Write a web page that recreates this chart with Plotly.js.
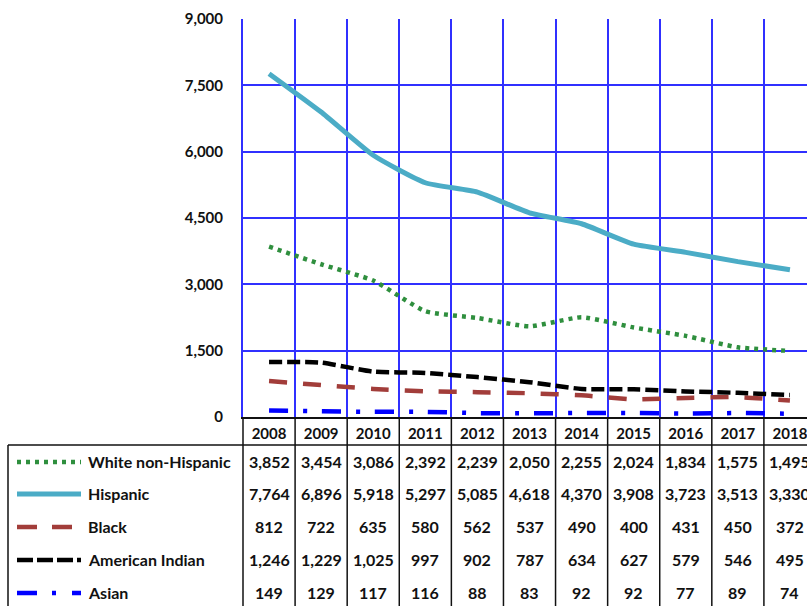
<!DOCTYPE html>
<html>
<head>
<meta charset="utf-8">
<script src="https://cdn.plot.ly/plotly-3.0.1.min.js"></script>
<style>
html,body{margin:0;padding:0;overflow:hidden;background:#fff;}
#chart{width:830px;height:606px;}
</style>
</head>
<body>
<div id="chart"></div>
<script>
// ---- data ----
const years = ["2008","2009","2010","2011","2012","2013","2014","2015","2016","2017","2018"];
const seriesNames = ["White non-Hispanic","Hispanic","Black","American Indian","Asian"];
const whiteNonHispanic = [3852,3454,3086,2392,2239,2050,2255,2024,1834,1575,1495];
const hispanic = [7764,6896,5918,5297,5085,4618,4370,3908,3723,3513,3330];
const black = [812,722,635,580,562,537,490,400,431,450,372];
const americanIndian = [1246,1229,1025,997,902,787,634,627,579,546,495];
const asian = [149,129,117,116,88,83,92,92,77,89,74];
const yTicks = [0,1500,3000,4500,6000,7500,9000];

// ---- styles ----
const seriesData = [whiteNonHispanic, hispanic, black, americanIndian, asian];
const styles = [
  {color:"#2f8f3e", width:4.5, dash:"4px,5px"},
  {color:"#4bacc6", width:5, dash:"solid"},
  {color:"#a23d3a", width:4.5, dash:"18px,16px"},
  {color:"#000000", width:4.5, dash:"13px,5px"},
  {color:"#0000ff", width:4.5, dash:"19px,15px,4px,15px"}
];
const legendDash = ["4px,5px","solid","20px,15px","16px,4px","20px,15px,4px,16px"];
const FONT = "Lato, 'Liberation Sans', sans-serif";
const TXT = "#111";
const GRID = "#3030ff";

const W = 830, H = 606, L = 243, R = 14, T = 19, B = 189;
const PW = W - L - R, PH = H - T - B;
const px = x => (x - L) / PW;
const py = y => (H - B - y) / PH;

const traces = seriesData.map((d, i) => ({
  type: "scatter", mode: "lines", x: years, y: d, name: seriesNames[i],
  line: {color: styles[i].color, width: styles[i].width, dash: styles[i].dash, shape: "spline", smoothing: 0.5},
  showlegend: false, hoverinfo: "skip"
}));

const fmt = new Intl.NumberFormat("en-US");
const rowY = [461, 493, 526, 559, 592];
const annotations = [];
const shapes = [];

seriesData.forEach((d, i) => {
  annotations.push({xref:"paper", yref:"paper", x: px(86), y: py(rowY[i]), xanchor:"left", yanchor:"middle",
    text: seriesNames[i], showarrow:false, font:{family:FONT, size:16, color:TXT, weight:"bold"}});
  d.forEach((v, k) => {
    annotations.push({xref:"x", yref:"paper", x: k, y: py(rowY[i]), xanchor:"center", yanchor:"middle",
      text: fmt.format(v), showarrow:false, font:{family:FONT, size:16, color:TXT, weight:"bold"}});
  });
  shapes.push({type:"line", xref:"paper", yref:"paper", x0: px(17), x1: px(81), y0: py(rowY[i] + 1), y1: py(rowY[i] + 1),
    line:{color: styles[i].color, width: styles[i].width, dash: legendDash[i]}});
});

// table grid
for (let k = 0; k <= years.length; k++) {
  shapes.push({type:"line", xref:"paper", yref:"paper", x0: k / years.length, x1: k / years.length, y0: -0.001, y1: py(640),
    line:{color:"#111", width:1.5}});
}
shapes.push({type:"line", xref:"paper", yref:"paper", x0: px(8), x1: 1.2, y0: py(445), y1: py(445), line:{color:"#111", width:1.5}});
shapes.push({type:"line", xref:"paper", yref:"paper", x0: px(8), x1: px(8), y0: py(445), y1: py(640), line:{color:"#111", width:1.5}});

const layout = {
  width: W, height: H,
  margin: {l: L, r: R, t: T, b: B},
  paper_bgcolor: "#fff", plot_bgcolor: "#fff",
  showlegend: false,
  xaxis: {
    type: "category", range: [-0.5, 10.5], tickson: "boundaries",
    showgrid: true, gridcolor: GRID, gridwidth: 2,
    showline: true, linecolor: "#111", linewidth: 1.5,
    ticks: "", ticklen: 0, tickfont: {family: FONT, size: 15, color: TXT, weight: "bold"},
    ticklabelstandoff: 2, zeroline: false, fixedrange: true
  },
  yaxis: {
    range: [0, 9000], tickvals: yTicks, tickformat: ",",
    showgrid: true, gridcolor: GRID, gridwidth: 2,
    showline: true, linecolor: GRID, linewidth: 2,
    zeroline: false, ticks: "",
    ticklabelstandoff: 15,
    tickfont: {family: FONT, size: 15, color: TXT, weight: "bold"}, fixedrange: true
  },
  annotations: annotations,
  shapes: shapes
};

Plotly.newPlot("chart", traces, layout, {displayModeBar: false, staticPlot: true});
</script>
</body>
</html>
